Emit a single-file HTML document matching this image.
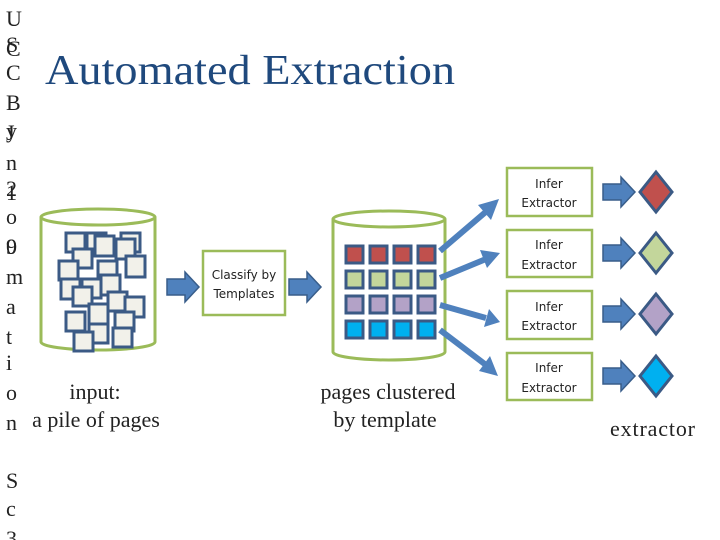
<!DOCTYPE html>
<html><head><style>
body{margin:0;width:720px;height:540px;background:#fff;overflow:hidden}
svg{display:block}
</style></head><body>
<svg width="720" height="540" xmlns="http://www.w3.org/2000/svg">
<defs>
<g id="blk"><path d="M0,-8 L18,-8 L18,-15 L32,0 L18,15 L18,8 L0,8 Z" fill="#4f81bd" stroke="#385d8a" stroke-width="1.5"/></g>
</defs>
<g font-family="Liberation Serif, serif" font-size="22" fill="#222">
<text x="6" y="26">U</text><text x="6" y="52">S</text><text x="6" y="56">C</text><text x="6" y="80">C</text>
<text x="6" y="110">B</text><text x="6" y="138">y</text><text x="6" y="140">J</text><text x="6" y="170">n</text>
<text x="6" y="196">2</text><text x="6" y="200">1</text><text x="6" y="224">o</text><text x="6" y="254">0</text><text x="6" y="254">9</text>
<text x="6" y="284">m</text><text x="6" y="314">a</text><text x="6" y="344">t</text><text x="6" y="370">i</text>
<text x="6" y="400">o</text><text x="6" y="430">n</text><text x="6" y="488">S</text><text x="6" y="516">c</text><text x="6" y="546">3</text>
</g>
<text x="45" y="84" font-family="Liberation Serif, serif" font-size="42" fill="#1f497d" textLength="410" lengthAdjust="spacingAndGlyphs">Automated Extraction</text>

<!-- left cylinder -->
<path d="M41,217 L41,342 A57,8 0 0 0 155,342 L155,217" fill="none" stroke="#9bbb59" stroke-width="3"/>
<ellipse cx="98" cy="217" rx="57" ry="8" fill="none" stroke="#9bbb59" stroke-width="3"/>
<g fill="#f2f1ea" stroke="#3b5a85" stroke-width="3">
<rect x="66" y="233" width="19" height="19"/><rect x="87" y="233" width="19" height="19"/><rect x="121" y="233" width="19" height="19"/>
<rect x="95" y="236" width="19" height="20"/><rect x="116" y="239" width="19" height="20"/>
<rect x="73" y="249" width="19" height="19"/><rect x="59" y="261" width="19" height="19"/><rect x="98" y="261" width="19" height="19"/>
<rect x="126" y="256" width="19" height="21"/><rect x="61" y="279" width="19" height="20"/><rect x="82" y="279" width="19" height="19"/>
<rect x="101" y="275" width="19" height="20"/><rect x="73" y="287" width="19" height="19"/><rect x="108" y="292" width="19" height="19"/>
<rect x="125" y="297" width="19" height="20"/><rect x="66" y="312" width="19" height="19"/><rect x="89" y="304" width="19" height="20"/>
<rect x="115" y="312" width="19" height="19"/><rect x="89" y="324" width="19" height="19"/><rect x="74" y="332" width="19" height="19"/>
<rect x="113" y="328" width="19" height="19"/>
</g>
<g font-family="Liberation Serif, serif" font-size="22" fill="#222" text-anchor="middle">
<text x="95" y="399">input:</text><text x="96" y="427">a pile of pages</text>
<text x="388" y="399">pages clustered</text><text x="385" y="427">by template</text>
</g>
<text x="610" y="436" font-family="Liberation Serif, serif" font-size="22" fill="#222" textLength="85">extractor</text>

<use href="#blk" x="167" y="287"/>
<rect x="203" y="251" width="82" height="64" fill="#fff" stroke="#9bbb59" stroke-width="2.5"/>
<text x="244" y="279" font-family="DejaVu Sans, sans-serif" font-size="12" fill="#222" text-anchor="middle">Classify by</text>
<text x="244" y="298" font-family="DejaVu Sans, sans-serif" font-size="12" fill="#222" text-anchor="middle">Templates</text>
<use href="#blk" x="289" y="287"/>

<!-- right cylinder -->
<path d="M333,219 L333,352 A56,8 0 0 0 445,352 L445,219" fill="none" stroke="#9bbb59" stroke-width="3"/>
<ellipse cx="389" cy="219" rx="56" ry="8" fill="none" stroke="#9bbb59" stroke-width="3"/>
<g stroke="#3b5a85" stroke-width="3">
<g fill="#c0504d"><rect x="346" y="246" width="17" height="17"/><rect x="370" y="246" width="17" height="17"/><rect x="394" y="246" width="17" height="17"/><rect x="418" y="246" width="17" height="17"/></g>
<g fill="#c3d69b"><rect x="346" y="271" width="17" height="17"/><rect x="370" y="271" width="17" height="17"/><rect x="394" y="271" width="17" height="17"/><rect x="418" y="271" width="17" height="17"/></g>
<g fill="#b3a2c7"><rect x="346" y="296" width="17" height="17"/><rect x="370" y="296" width="17" height="17"/><rect x="394" y="296" width="17" height="17"/><rect x="418" y="296" width="17" height="17"/></g>
<g fill="#00b0f0"><rect x="346" y="321" width="17" height="17"/><rect x="370" y="321" width="17" height="17"/><rect x="394" y="321" width="17" height="17"/><rect x="418" y="321" width="17" height="17"/></g>
</g>
<!-- diagonal arrows -->
<g stroke="#4f81bd" stroke-width="6" fill="#4f81bd">
<line x1="440" y1="251" x2="488" y2="210"/><polygon points="499,199 478,205 491,220" stroke="none"/>
<line x1="440" y1="278" x2="486" y2="259"/><polygon points="500,253 480,250 487,268" stroke="none"/>
<line x1="440" y1="305" x2="486" y2="318"/><polygon points="500,322 489,309 484,327" stroke="none"/>
<line x1="440" y1="330" x2="486" y2="365"/><polygon points="498,376 490,356 479,371" stroke="none"/>
</g>
<g font-family="DejaVu Sans, sans-serif" font-size="12" fill="#222" text-anchor="middle">
<rect x="507" y="168" width="85" height="48" fill="#fff" stroke="#9bbb59" stroke-width="2.5"/>
<text x="549" y="188">Infer</text><text x="549" y="207">Extractor</text>
<rect x="507" y="230" width="85" height="47" fill="#fff" stroke="#9bbb59" stroke-width="2.5"/>
<text x="549" y="249">Infer</text><text x="549" y="269">Extractor</text>
<rect x="507" y="291" width="85" height="48" fill="#fff" stroke="#9bbb59" stroke-width="2.5"/>
<text x="549" y="311">Infer</text><text x="549" y="330">Extractor</text>
<rect x="507" y="353" width="85" height="47" fill="#fff" stroke="#9bbb59" stroke-width="2.5"/>
<text x="549" y="372">Infer</text><text x="549" y="392">Extractor</text>
</g>
<use href="#blk" x="603" y="192"/><use href="#blk" x="603" y="253"/><use href="#blk" x="603" y="314"/><use href="#blk" x="603" y="376"/>
<g stroke="#3b5a85" stroke-width="3">
<polygon points="656,172 672,192 656,212 640,192" fill="#c0504d"/>
<polygon points="656,233 672,253 656,273 640,253" fill="#c3d69b"/>
<polygon points="656,294 672,314 656,334 640,314" fill="#b3a2c7"/>
<polygon points="656,356 672,376 656,396 640,376" fill="#00b0f0"/>
</g>
</svg>
</body></html>
